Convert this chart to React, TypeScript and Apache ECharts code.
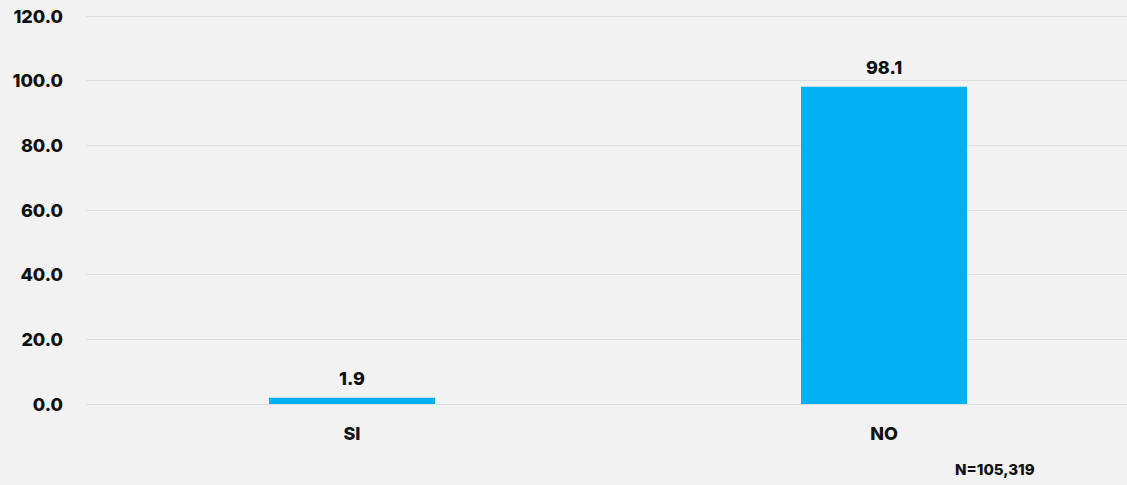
import React, { useEffect, useRef } from "react";
import * as echarts from "echarts";

const categories = ["SI", "NO"];
const values = [1.9, 98.1];
const yTicks = { min: 0, max: 120, interval: 20 };
const note = "N=105,319";

export default function App() {
  const ref = useRef<HTMLDivElement>(null);
  useEffect(() => {
    if (!ref.current) return;
    const chart = echarts.init(ref.current, undefined, { renderer: "svg" });
    const font = "Inter, 'Noto Sans', sans-serif";
    chart.setOption({
      animation: false,
      backgroundColor: "#f2f2f2",
      grid: { left: 86, right: 0, top: 16, bottom: 81, containLabel: false },
      xAxis: {
        type: "category",
        data: categories,
        axisLine: { show: false },
        axisTick: { show: false },
        axisLabel: {
          color: "#111",
          fontFamily: font,
          fontWeight: 800,
          fontSize: 18,
          margin: 20,
        },
      },
      yAxis: {
        type: "value",
        min: yTicks.min,
        max: yTicks.max,
        interval: yTicks.interval,
        axisLine: { show: false },
        axisTick: { show: false },
        splitLine: { lineStyle: { color: "#dedede", width: 1 } },
        axisLabel: {
          color: "#111",
          fontFamily: font,
          fontWeight: 800,
          fontSize: 18,
          margin: 23,
          formatter: (v: number) => v.toFixed(1),
        },
      },
      series: [
        {
          type: "bar",
          data: values,
          barWidth: 166,
          itemStyle: { color: "#00b0f0" },
          label: {
            show: true,
            position: "top",
            distance: 10,
            color: "#111",
            fontFamily: font,
            fontWeight: 800,
            fontSize: 18,
            formatter: (p: any) => Number(p.value).toFixed(1),
          },
        },
      ],
      graphic: [
        {
          type: "text",
          left: 955,
          top: 462,
          style: {
            text: note,
            fill: "#111",
            font: `800 15px ${font}`,
          },
        },
      ],
    });
    return () => chart.dispose();
  }, []);
  return (
    <div style={{ width: 1127, height: 485, position: "absolute", left: 0, top: 0, overflow: "hidden", background: "#f2f2f2" }}>
      <div ref={ref} style={{ width: 1150, height: 485 }} />
    </div>
  );
}
